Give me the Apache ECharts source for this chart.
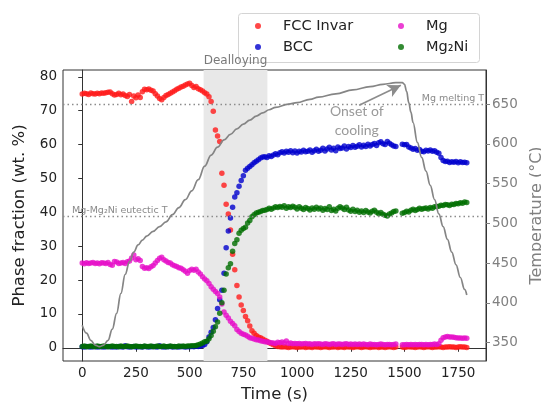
<!DOCTYPE html>
<html>
<head>
<meta charset="utf-8">
<script src="https://cdn.jsdelivr.net/npm/echarts@6/dist/echarts.min.js"></script>
<style>
  html, body { margin: 0; padding: 0; background: #fff; }
  #main { width: 541px; height: 405px; }
</style>
</head>
<body>
<div id="main"></div>
<script>
// time stamps (s) of the diffraction frames, gap around 1470-1480
const times = [
  0,10,20,30,40,50,60,70,80,90,
  100,110,120,130,140,150,160,170,180,190,
  200,210,220,230,240,250,260,270,280,290,
  300,310,320,330,340,350,360,370,380,390,
  400,410,420,430,440,450,460,470,480,490,
  500,510,520,530,540,550,560,570,580,590,
  600,610,620,630,640,650,660,670,680,690,
  700,710,720,730,740,750,760,770,780,790,
  800,810,820,830,840,850,860,870,880,890,
  900,910,920,930,940,950,960,970,980,990,
  1000,1010,1020,1030,1040,1050,1060,1070,1080,1090,
  1100,1110,1120,1130,1140,1150,1160,1170,1180,1190,
  1200,1210,1220,1230,1240,1250,1260,1270,1280,1290,
  1300,1310,1320,1330,1340,1350,1360,1370,1380,1390,
  1400,1410,1420,1430,1440,1450,1460,
  1490,1500,1510,1520,1530,1540,1550,1560,1570,1580,1590,
  1600,1610,1620,1630,1640,1650,1660,1670,1680,1690,
  1700,1710,1720,1730,1740,1750,1760,1770,1780,1790
];

const fccInvar = [
  74.9,75.1,75.0,74.8,75.2,75.0,74.9,75.1,75.0,75.2,
  75.1,75.3,75.4,75.5,75.0,74.6,74.8,75.1,74.7,74.9,
  74.5,74.2,74.8,72.7,74.3,73.8,74.6,73.9,75.6,76.3,
  76.2,76.4,76.0,75.8,75.0,74.3,73.6,73.2,73.9,74.5,
  74.8,75.1,75.5,75.9,76.3,76.6,77.0,77.2,77.6,77.9,
  78.1,77.4,76.8,77.1,76.5,76.2,75.8,75.3,74.9,74.1,
  72.7,69.8,64.3,62.5,60.9,51.5,48.0,42.4,39.5,34.8,
  27.6,23.0,18.4,15.0,12.6,11.0,9.2,8.0,6.4,5.0,
  4.3,3.6,3.2,3.0,2.6,2.2,1.9,1.5,1.2,0.9,
  0.6,0.4,0.3,0.2,0.3,0.2,0.1,0.2,0.3,0.2,
  0.1,0.2,0.2,0.3,0.1,0.2,0.2,0.1,0.3,0.2,
  0.2,0.1,0.2,0.3,0.2,0.1,0.2,0.2,0.3,0.1,
  0.2,0.2,0.1,0.3,0.2,0.2,0.1,0.2,0.3,0.2,
  0.1,0.2,0.3,0.2,0.1,0.2,0.2,0.3,0.1,0.2,
  0.2,0.1,0.2,0.3,0.2,0.1,0.2,
  0.2,0.1,0.2,0.3,0.2,0.2,0.1,0.2,0.3,0.2,0.1,
  0.2,0.3,0.2,0.1,0.2,0.2,0.3,0.2,0.1,0.2,
  0.2,0.3,0.2,0.2,0.1,0.2,0.3,0.2,0.2,0.1
];

const bcc = [
  0.3,0.2,0.4,0.3,0.2,0.3,0.4,0.2,0.3,0.3,
  0.2,0.3,0.4,0.3,0.2,0.3,0.2,0.4,0.3,0.2,
  0.6,0.3,0.2,0.3,0.4,0.2,0.3,0.3,0.2,0.4,
  0.3,0.2,0.3,0.4,0.3,0.2,0.6,0.3,0.2,0.3,
  0.3,0.4,0.2,0.3,0.3,0.2,0.4,0.3,0.2,0.3,
  0.3,0.4,0.3,0.5,0.4,0.5,0.7,1.0,1.8,3.2,
  4.6,6.0,8.3,11.6,14.2,17.0,22.0,29.5,34.5,38.3,
  41.5,44.5,45.8,47.7,49.4,50.8,52.4,53.0,53.5,54.0,
  54.6,55.1,55.5,56.0,56.3,56.4,56.2,56.7,56.5,56.9,
  57.3,57.0,57.6,57.9,57.5,58.0,57.7,58.2,57.6,58.1,
  57.5,58.0,57.8,58.3,57.9,58.0,58.4,57.7,58.2,58.6,
  58.0,58.3,58.9,58.1,58.7,59.2,58.4,58.9,58.2,59.3,
  58.8,59.0,59.6,58.7,59.4,59.1,59.7,59.2,59.5,59.9,
  59.3,59.8,59.4,60.1,59.6,60.0,60.3,59.7,60.5,60.8,
  60.2,60.0,60.9,60.4,59.9,59.6,59.4,
  60.1,59.9,60.0,59.3,59.0,58.6,58.8,58.3,58.5,58.0,57.9,
  58.3,58.1,58.4,58.0,58.2,57.7,57.4,56.2,55.3,55.0,
  55.1,54.7,54.9,54.8,55.0,54.6,54.9,54.7,54.8,54.6
];

const mg = [
  25.0,24.8,25.1,24.9,25.0,25.2,24.9,25.0,24.8,25.1,
  25.0,24.9,25.2,24.6,24.4,25.5,25.3,24.9,25.0,25.2,
  24.9,25.4,25.6,26.5,27.4,26.0,26.3,25.8,24.0,23.5,
  23.6,23.4,23.9,24.3,25.0,25.8,26.4,26.7,26.0,25.6,
  25.2,25.0,24.5,24.2,24.0,23.6,23.5,23.0,22.6,22.0,
  22.8,23.2,22.9,23.2,22.4,21.8,21.0,20.3,19.8,19.0,
  18.0,17.3,16.6,16.0,15.0,12.9,10.6,9.6,8.8,7.8,
  7.2,6.5,5.4,4.8,4.3,4.0,3.8,3.4,3.0,2.8,
  2.6,2.4,2.3,2.1,1.9,1.8,1.7,1.6,1.5,1.4,
  1.3,1.6,1.5,1.7,1.4,2.0,1.3,1.4,1.2,1.3,
  1.2,1.3,1.1,1.2,1.3,1.1,1.2,1.0,1.2,1.1,
  1.2,1.1,1.0,1.2,1.1,1.0,1.1,1.2,1.0,1.1,
  1.1,1.0,1.1,1.2,1.0,1.1,1.0,1.1,1.0,1.1,
  1.0,1.1,1.0,0.9,1.1,1.0,1.0,0.9,1.0,1.1,
  1.0,0.9,1.0,1.0,0.9,1.0,1.1,
  0.9,0.9,1.0,0.9,1.0,0.9,1.0,0.9,1.0,1.0,0.9,
  1.0,0.9,1.0,1.0,1.1,1.0,1.2,2.2,3.0,3.2,
  3.3,3.2,3.2,3.1,3.0,2.9,2.9,2.8,2.9,2.8
];

const mg2ni = [
  0.4,0.5,0.3,0.4,0.5,0.4,0.3,0.5,0.4,0.4,
  0.5,0.4,0.3,0.4,0.5,0.4,0.4,0.3,0.5,0.4,
  0.4,0.5,0.4,0.3,0.4,0.5,0.4,0.4,0.3,0.5,
  0.4,0.4,0.5,0.3,0.4,0.5,0.4,0.4,0.5,0.3,
  0.4,0.5,0.4,0.4,0.3,0.5,0.4,0.5,0.4,0.5,
  0.5,0.6,0.6,0.7,0.9,1.1,1.4,1.8,1.9,2.7,
  3.6,4.9,6.2,7.6,10.2,13.3,17.0,21.8,23.6,24.8,
  28.5,30.8,31.9,33.8,34.7,35.2,35.6,36.8,37.6,38.7,
  39.3,39.8,40.0,40.2,40.5,40.6,40.8,41.2,40.9,41.3,
  41.6,41.4,41.7,41.5,41.9,41.2,41.6,41.4,41.8,41.5,
  41.0,41.6,41.2,40.8,41.4,41.1,40.7,41.3,40.9,41.5,
  41.0,41.3,40.6,41.1,40.8,41.6,40.5,40.9,40.4,41.2,
  41.6,41.3,40.8,41.5,40.7,40.3,40.9,40.2,40.6,40.0,
  40.4,39.9,40.5,40.1,39.8,40.3,40.6,40.0,39.6,39.9,
  39.4,39.1,38.9,39.5,39.8,40.2,40.4,
  39.7,39.9,40.3,40.1,40.6,40.9,40.5,40.8,41.2,40.9,41.1,
  41.3,41.0,41.4,41.2,41.6,41.7,41.8,42.1,42.0,42.3,
  42.2,42.0,42.4,42.3,42.6,42.5,42.8,42.7,43.0,42.9
];

// furnace temperature (deg C)
const tempTime = [0,20,40,60,80,100,120,140,160,180,200,220,240,260,280,300,330,360,390,420,
  450,480,510,540,570,600,630,660,690,720,750,780,810,840,870,900,960,1000,1060,
  1100,1180,1260,1340,1400,1460,1490,1500,1510,1520,1530,1540,1560,1580,1600,1620,1640,1660,1680,1700,
  1720,1740,1760,1780,1790];
const temperature = [372,362,353,347,345,347,353,367,387,412,436,452,464,473,479,484,490,496,502,511,
  520,530,541,555,572,586,596,605,612,619,625,630,635,639,643,646,650,652,656,
  659,663,668,672,675,677,677,675,666,652,640,627,602,583,566,548,530,512,496,480,
  464,448,432,417,410];

const xTicks = [0,250,500,750,1000,1250,1500,1750];
const fracTicks = [0,10,20,30,40,50,60,70,80];
const tempTicks = [350,400,450,500,550,600,650];

const dealloying = [565, 862];
const mgMeltingT = 650;
const eutecticT = 509;

const FONT = 'DejaVu Sans';
const pairs = vals => times.map((t, i) => [t, vals[i]]);
const plain = v => String(v);

const chart = echarts.init(document.getElementById('main'));

const scatter = (name, vals, color) => ({
  name: name,
  type: 'scatter',
  data: pairs(vals),
  symbol: 'circle',
  symbolSize: 5.5,
  itemStyle: { color: color, opacity: 0.8 },
  z: 2,
  silent: true
});

const fccSeries = scatter('FCC Invar', fccInvar, '#ff1a1a');
fccSeries.markArea = {
  silent: true,
  itemStyle: { color: '#e8e8e8' },
  label: { show: true, position: 'top', distance: 3, color: '#7a7a7a', fontFamily: FONT, fontSize: 12 },
  data: [[{ name: 'Dealloying', xAxis: dealloying[0] }, { xAxis: dealloying[1] }]]
};

const legendText = { fontFamily: FONT, fontSize: 14.5, color: '#222', lineHeight: 18 };

const option = {
  animation: false,
  backgroundColor: '#ffffff',
  textStyle: { fontFamily: FONT },
  grid: {
    left: 63, right: 55, top: 70, bottom: 44,
    outerBoundsMode: 'none',
    containLabel: false,
    show: true, borderColor: '#333', borderWidth: 1, backgroundColor: 'transparent'
  },
  graphic: [{
    type: 'rect',
    left: 238, top: 13,
    shape: { width: 241, height: 49, r: 3 },
    style: { fill: '#fff', stroke: '#d4d4d4', lineWidth: 1 },
    z: 0
  }],
  legend: [
    {
      data: ['FCC Invar', 'BCC'],
      orient: 'vertical', left: 250, top: 12,
      icon: 'circle', itemWidth: 40, itemHeight: 6, itemGap: 3,
      textStyle: legendText,
      selectedMode: false
    },
    {
      data: ['Mg', 'Mg₂Ni'],
      orient: 'vertical', left: 393, top: 12,
      icon: 'circle', itemWidth: 40, itemHeight: 6, itemGap: 3,
      textStyle: legendText,
      selectedMode: false
    }
  ],
  xAxis: {
    type: 'value',
    min: -89.5, max: 1879.5,
    name: 'Time (s)', nameLocation: 'middle', nameGap: 25,
    nameTextStyle: { fontFamily: FONT, fontSize: 16.5, color: '#222' },
    axisLine: { show: true, lineStyle: { color: '#333' } },
    axisTick: { show: true, inside: false, length: 4, customValues: xTicks, lineStyle: { color: '#333' } },
    axisLabel: { customValues: xTicks, formatter: plain, fontFamily: FONT, fontSize: 13.5, color: '#222', margin: 5 },
    splitLine: { show: false }
  },
  yAxis: [
    {
      type: 'value',
      min: -3.9, max: 82,
      name: 'Phase fraction (wt. %)', nameLocation: 'middle', nameGap: 35,
      nameTextStyle: { fontFamily: FONT, fontSize: 16.5, color: '#222' },
      axisLine: { show: true, lineStyle: { color: '#333' } },
      axisTick: { show: true, inside: false, length: 4, customValues: fracTicks, lineStyle: { color: '#333' } },
      axisLabel: { customValues: fracTicks, formatter: plain, fontFamily: FONT, fontSize: 13.5, color: '#222', margin: 6 },
      splitLine: { show: false }
    },
    {
      type: 'value',
      position: 'right',
      min: 327, max: 693,
      name: 'Temperature (°C)', nameLocation: 'middle', nameGap: 35,
      nameTextStyle: { fontFamily: FONT, fontSize: 16, color: '#808080' },
      axisLine: { show: true, lineStyle: { color: '#333' } },
      axisTick: { show: true, inside: false, length: 4, customValues: tempTicks, lineStyle: { color: '#808080' } },
      axisLabel: { customValues: tempTicks, formatter: plain, fontFamily: FONT, fontSize: 13.5, color: '#808080', margin: 6 },
      splitLine: { show: false }
    }
  ],
  series: [
    fccSeries,
    scatter('BCC', bcc, '#0000cd'),
    scatter('Mg', mg, '#e60fc8'),
    scatter('Mg₂Ni', mg2ni, '#006e00'),
    {
      name: 'Temperature',
      type: 'line',
      yAxisIndex: 1,
      data: tempTime.map((t, i) => [t, temperature[i]]),
      showSymbol: false,
      smooth: 0.4,
      smoothMonotone: 'x',
      lineStyle: { color: '#858585', width: 1.7 },
      itemStyle: { color: '#858585' },
      z: 5,
      silent: true,
      markLine: {
        silent: true,
        symbol: ['none', 'none'],
        animation: false,
        data: [
          {
            yAxis: mgMeltingT,
            lineStyle: { type: [1.5, 3], color: '#8c8c8c', width: 1.4 },
            label: { show: true, position: 'insideEndTop', formatter: 'Mg melting T',
              color: '#8a8a8a', fontFamily: FONT, fontSize: 9.5, distance: [2, 1] }
          },
          {
            yAxis: eutecticT,
            lineStyle: { type: [1.5, 3], color: '#8c8c8c', width: 1.4 },
            label: { show: true, position: 'insideStartTop', formatter: 'Mg-Mg₂Ni eutectic T',
              color: '#8a8a8a', fontFamily: FONT, fontSize: 9.5, distance: [9, 1] }
          },
          [
            { coord: [1289, 648.6], symbol: 'none', lineStyle: { type: 'solid', color: '#8c8c8c', width: 1.6 }, label: { show: false } },
            { coord: [1483, 673.7], symbol: 'arrow', symbolSize: [10, 13] }
          ]
        ]
      },
      markPoint: {
        silent: true,
        symbol: 'circle', symbolSize: 0,
        data: [{
          coord: [1278, 628.5],
          label: { show: true, formatter: 'Onset of\ncooling', color: '#9a9a9a',
            fontFamily: 'Lato', fontSize: 14, lineHeight: 19, align: 'center', verticalAlign: 'middle' }
        }]
      }
    }
  ]
};

chart.setOption(option);
</script>
</body>
</html>
